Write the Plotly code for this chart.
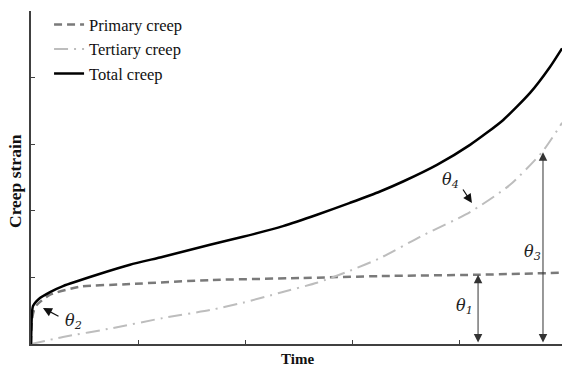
import plotly.graph_objects as go

# Data (arbitrary units)
total_x = [0, 0.009, 0.019, 0.084, 0.178, 0.299, 0.617, 0.925, 1.234, 1.673, 1.981, 2.355,
           2.673, 2.981, 3.262, 3.477, 3.794, 4.103, 4.411, 4.664, 4.850, 4.963]
total_y = [0, 0.465, 0.57, 0.69, 0.78, 0.87, 1.04, 1.19, 1.31, 1.49, 1.61, 1.77,
           1.94, 2.12, 2.29, 2.44, 2.69, 2.99, 3.36, 3.77, 4.16, 4.44]

primary_x = [0, 0.009, 0.028, 0.056, 0.178, 0.458, 0.925, 1.673, 2.514, 3.262, 4.178, 4.963]
primary_y = [0, 0.36, 0.51, 0.59, 0.74, 0.86, 0.90, 0.96, 0.99, 1.02, 1.04, 1.07]

tertiary_x = [0, 0.299, 0.766, 1.234, 1.673, 1.981, 2.327, 2.673, 2.981, 3.262, 3.636,
              4.103, 4.477, 4.776, 4.963]
tertiary_y = [0, 0.105, 0.24, 0.39, 0.51, 0.62, 0.77, 0.92, 1.10, 1.29, 1.61,
              1.98, 2.39, 2.88, 3.32]

x_ticks = [0, 1, 2, 3, 4]
y_ticks = [0, 1, 2, 3, 4, 5]

fig = go.Figure()
fig.add_trace(go.Scatter(x=primary_x, y=primary_y, mode="lines", name="Primary creep",
                         line=dict(color="#7a7a7a", width=2.5, dash="8px,5px", shape="spline", smoothing=0.6)))
fig.add_trace(go.Scatter(x=tertiary_x, y=tertiary_y, mode="lines", name="Tertiary creep",
                         line=dict(color="#bdbdbd", width=2, dash="14px,6px,2px,6px", shape="spline", smoothing=0.6)))
fig.add_trace(go.Scatter(x=total_x, y=total_y, mode="lines", name="Total creep",
                         line=dict(color="#000000", width=2.5, shape="spline", smoothing=0.6)))

tfont = dict(family="DejaVu Serif", size=16, color="#222")
ann = []
# theta labels
for txt, x, y in [("θ<sub>1</sub>", 4.056, 0.556), ("θ<sub>2</sub>", 0.40, 0.34),
                  ("θ<sub>3</sub>", 4.69, 1.37), ("θ<sub>4</sub>", 3.916, 2.46)]:
    ann.append(dict(x=x, y=y, xref="x", yref="y", text="<i>" + txt + "</i>", showarrow=False, font=tfont))
# double arrows
for xa, ytop in [(4.178, 1.04), (4.785, 2.88)]:
    ann.append(dict(x=xa, y=ytop, ax=xa, ay=0, xref="x", yref="y", axref="x", ayref="y",
                    text="", showarrow=True, arrowhead=2, startarrowhead=2, arrowside="end+start",
                    arrowsize=1.7, startarrowsize=1.7, arrowwidth=1, arrowcolor="#333"))
# single arrows
ann.append(dict(x=0.112, y=0.54, ax=0.271, ay=0.405, xref="x", yref="y", axref="x", ayref="y",
                text="", showarrow=True, arrowhead=2, arrowsize=1.5, arrowwidth=1.2, arrowcolor="#111"))
ann.append(dict(x=4.121, y=2.117, ax=4.028, ay=2.342, xref="x", yref="y", axref="x", ayref="y",
                text="", showarrow=True, arrowhead=2, arrowsize=1.5, arrowwidth=1.2, arrowcolor="#111"))

W, H = 562, 368
L, R, T, B = 31, 0, 11, 24
pw, ph = W - L - R, H - T - B
# axis titles (pixel positions converted to paper coordinates)
ann.append(dict(x=(15 - L) / pw, y=(H - B - 181) / ph, xref="paper", yref="paper",
                xanchor="center", yanchor="middle", text="<b>Creep strain</b>", showarrow=False,
                textangle=-90, font=dict(family="Liberation Serif", size=17.5, color="#111")))
ann.append(dict(x=(297 - L) / pw, y=(H - B - 359) / ph, xref="paper", yref="paper",
                xanchor="center", yanchor="middle", text="<b>Time</b>", showarrow=False,
                font=dict(family="Liberation Serif", size=15, color="#111")))

fig.update_layout(
    width=W, height=H,
    margin=dict(l=L, r=R, t=T, b=B),
    plot_bgcolor="white", paper_bgcolor="white",
    showlegend=True,
    legend=dict(x=0.034, y=1.011, xanchor="left", yanchor="top", bgcolor="rgba(0,0,0,0)",
                font=dict(family="Liberation Serif", size=16.5, color="#111")),
    annotations=ann,
    xaxis=dict(range=[0, pw / 107], showgrid=False, zeroline=False, showline=True, linecolor="#404040",
               linewidth=1.5, ticks="inside", ticklen=4, tickcolor="#404040", tickvals=x_ticks,
               showticklabels=False),
    yaxis=dict(range=[0, 5], showgrid=False, zeroline=False, showline=True, linecolor="#404040",
               linewidth=1.5, ticks="inside", ticklen=4, tickcolor="#404040", tickvals=y_ticks,
               showticklabels=False),
)
fig.write_html("out.html")
